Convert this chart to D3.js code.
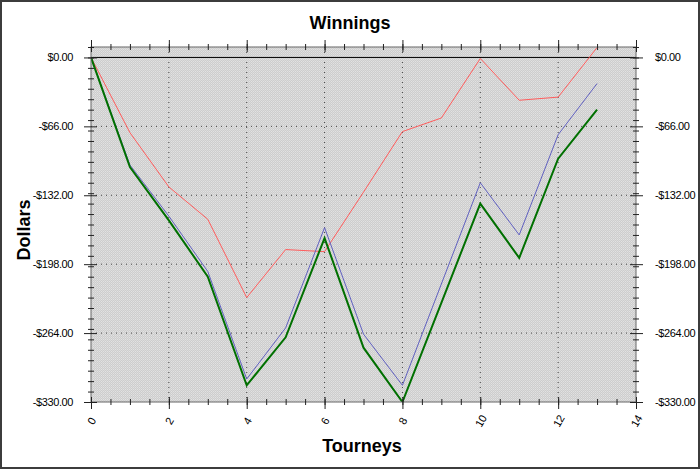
<!DOCTYPE html>
<html>
<head>
<meta charset="utf-8">
<script src="https://cdn.jsdelivr.net/npm/d3@7"></script>
<style>
  body { margin: 0; background: #fff; }
  svg { display: block; font-family: "Liberation Sans", Arial, sans-serif; }
</style>
</head>
<body>
<svg width="700" height="469"></svg>
<script>
// tourney index
var tourneys = [0, 1, 2, 3, 4, 5, 6, 7, 8, 9, 10, 11, 12, 13];

// values
var redSeries   = [0, -72, -124, -155, -230, -184, -186, -129, -71, -58, -1, -41, -38, 9.5];
var blueSeries  = [0, -103, -152, -205, -308, -259, -163, -265, -314, -217, -120, -170, -74, -25];
var greenSeries = [0, -105, -156, -210, -314, -268, -173, -278, -330, -235, -140, -192, -97, -50];

var yMajor = [0, -66, -132, -198, -264, -330];
var xMajor = [0, 2, 4, 6, 8, 10, 12, 14];

var svg = d3.select("svg"),
    margin = {top: 47, right: 64, bottom: 67, left: 91},
    width = +svg.attr("width") - margin.left - margin.right,
    height = +svg.attr("height") - margin.top - margin.bottom;

// outer frame
svg.append("rect")
    .attr("x", 1).attr("y", 1)
    .attr("width", 698).attr("height", 467)
    .attr("fill", "#fff")
    .attr("stroke", "#3c3c3c")
    .attr("stroke-width", 2);

// dotted background pattern
var defs = svg.append("defs");
var pat = defs.append("pattern")
    .attr("id", "dots")
    .attr("width", 2).attr("height", 2)
    .attr("patternUnits", "userSpaceOnUse");
pat.append("rect").attr("width", 2).attr("height", 2).attr("fill", "#cdcdcd");
pat.append("rect").attr("width", 1).attr("height", 1).attr("fill", "#e2e2e2");
pat.append("rect").attr("x", 1).attr("y", 1).attr("width", 1).attr("height", 1).attr("fill", "#dadada");

defs.append("clipPath").attr("id", "clip")
  .append("rect").attr("width", width).attr("height", height);

var g = svg.append("g").attr("transform", "translate(" + margin.left + "," + margin.top + ")");

var x = d3.scaleLinear().domain([0, 14]).range([0, width]);
var y = d3.scaleLinear().domain([-330, 10]).range([height, 0]);

g.append("rect")
    .attr("width", width).attr("height", height)
    .attr("fill", "url(#dots)");

// grid
g.selectAll(".vgrid")
    .data(xMajor.filter(function(d){ return d > 0 && d < 14; }))
  .enter().append("line")
    .attr("x1", function(d){ return x(d); })
    .attr("x2", function(d){ return x(d); })
    .attr("y1", 0).attr("y2", height)
    .attr("stroke", "#444")
    .attr("stroke-dasharray", "1,4");

g.selectAll(".hgrid")
    .data(yMajor.filter(function(d){ return d < 0 && d > -330; }))
  .enter().append("line")
    .attr("y1", function(d){ return y(d); })
    .attr("y2", function(d){ return y(d); })
    .attr("x1", 0).attr("x2", width)
    .attr("stroke", "#444")
    .attr("stroke-dasharray", "1,4");

// zero line
g.append("line")
    .attr("x1", 0).attr("x2", width)
    .attr("y1", y(0)).attr("y2", y(0))
    .attr("stroke", "#000");

// series
var line = d3.line()
    .x(function(d, i){ return x(tourneys[i]); })
    .y(function(d){ return y(d); });

var lines = g.append("g").attr("clip-path", "url(#clip)");
lines.append("path").datum(redSeries)
    .attr("fill", "none").attr("stroke", "#ff5c5c").attr("stroke-width", 1).attr("d", line);
lines.append("path").datum(blueSeries)
    .attr("fill", "none").attr("stroke", "#6060c0").attr("stroke-width", 1).attr("d", line);
lines.append("path").datum(greenSeries)
    .attr("fill", "none").attr("stroke", "#007000").attr("stroke-width", 2).attr("d", line);

// frame of plot area
g.append("rect")
    .attr("width", width).attr("height", height)
    .attr("fill", "none")
    .attr("stroke", "#666");

var fmt = function(d){ return (d < 0 ? "-" : "") + "$" + Math.abs(d).toFixed(2); };
var yMinor = d3.range(-330, 11, 10);
var xMinor = d3.range(0, 14.01, 0.5);

function styleTicks(sel, a, b, vertical) {
    sel.select(".domain").remove();
    sel.selectAll(".tick line")
        .attr("stroke", "#222")
        .attr(vertical ? "x1" : "y1", a)
        .attr(vertical ? "x2" : "y2", b);
}

function styleLabels(sel) {
    sel.selectAll("text")
        .attr("font-size", 11).attr("fill", "#000")
        .attr("letter-spacing", -0.4)
        .attr("font-family", "Liberation Sans, Arial, sans-serif");
}

// left axis
g.append("g").call(d3.axisLeft(y).tickValues(yMinor).tickFormat(""))
    .call(styleTicks, -3, 3, true);
g.append("g").call(d3.axisLeft(y).tickValues(yMajor).tickFormat(fmt).tickPadding(12))
    .call(styleTicks, -7, 6, true)
    .call(styleLabels);

// right axis
var rightG = g.append("g").attr("transform", "translate(" + width + ",0)");
rightG.append("g").call(d3.axisRight(y).tickValues(yMinor).tickFormat(""))
    .call(styleTicks, -3, 3, true);
rightG.append("g").call(d3.axisRight(y).tickValues(yMajor).tickFormat(fmt).tickPadding(13))
    .call(styleTicks, -6, 7, true)
    .call(styleLabels);

// bottom axis
var bottomG = g.append("g").attr("transform", "translate(0," + height + ")");
bottomG.append("g").call(d3.axisBottom(x).tickValues(xMinor).tickFormat(""))
    .call(styleTicks, -3, 3, false);
var bottomAx = bottomG.append("g").call(d3.axisBottom(x).tickValues(xMajor).tickFormat(d3.format("d")))
    .call(styleTicks, -5, 7, false)
    .call(styleLabels);
bottomAx.selectAll("text")
    .attr("y", 0).attr("dy", "0.35em")
    .attr("text-anchor", "middle")
    .attr("transform", "translate(0,19) rotate(-60)");

// top axis
var topG = g.append("g");
topG.append("g").call(d3.axisTop(x).tickValues(xMinor).tickFormat(""))
    .call(styleTicks, -3, 3, false);
topG.append("g").call(d3.axisTop(x).tickValues(xMajor).tickFormat(""))
    .call(styleTicks, -7, 5, false);

// titles
svg.append("text")
    .attr("x", 350).attr("y", 29)
    .attr("text-anchor", "middle")
    .attr("font-size", 18).attr("font-weight", "bold")
    .text("Winnings");

svg.append("text")
    .attr("transform", "translate(30,230) rotate(-90)")
    .attr("text-anchor", "middle")
    .attr("font-size", 18).attr("font-weight", "bold")
    .text("Dollars");

svg.append("text")
    .attr("x", 362).attr("y", 452)
    .attr("text-anchor", "middle")
    .attr("font-size", 18).attr("font-weight", "bold")
    .text("Tourneys");
</script>
</body>
</html>
